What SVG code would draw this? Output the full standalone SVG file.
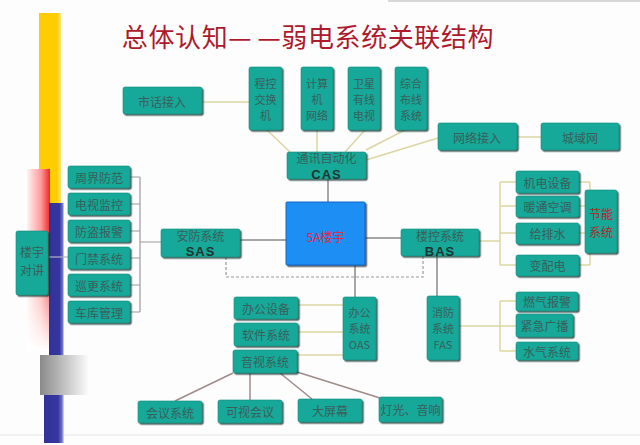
<svg xmlns="http://www.w3.org/2000/svg" width="640" height="445" viewBox="0 0 640 445">
<defs>
<style>
.b{fill:#17a898;stroke:#0e8a7b;stroke-width:0.6;filter:url(#sh)}
.t{font-family:"Noto Sans CJK SC","Noto Sans",sans-serif;font-size:12px;fill:#3b5f5b;text-anchor:middle;dominant-baseline:central}
.q{font-size:11px}
.k{font-family:"Liberation Sans",Arial,sans-serif;font-size:13px;font-weight:bold;fill:#1d3432;text-anchor:middle;dominant-baseline:central;letter-spacing:1px}
.r{fill:#b02a2a}
.g{fill:none;stroke:#a6a6a6;stroke-width:2}
.s{fill:none;stroke:#9c9c9c;stroke-width:1.2}
.o{fill:none;stroke:#dcd6a4;stroke-width:1.5}
.v{fill:none;stroke:#a08b8b;stroke-width:1.5}
</style>
<filter id="sh" x="-10%" y="-10%" width="130%" height="140%">
<feDropShadow dx="1.5" dy="1.5" stdDeviation="0.6" flood-color="#1a2a28" flood-opacity="0.75"/>
</filter>
<linearGradient id="yg" x1="0" x2="1" y1="0" y2="0">
<stop offset="0" stop-color="#ffcc00"/><stop offset="0.8" stop-color="#ffcc00"/><stop offset="1" stop-color="#ffe27a"/>
</linearGradient>
<linearGradient id="rg" x1="0" x2="1" y1="0" y2="0">
<stop offset="0" stop-color="#fff2f2"/><stop offset="0.6" stop-color="#ff9c9c"/><stop offset="1" stop-color="#f02626"/>
</linearGradient>
<linearGradient id="wf" x1="0" x2="0" y1="0" y2="1">
<stop offset="0" stop-color="#fff" stop-opacity="0"/><stop offset="0.45" stop-color="#fff" stop-opacity="0"/><stop offset="1" stop-color="#fff" stop-opacity="1"/>
</linearGradient>
<linearGradient id="bg" x1="0" x2="1" y1="0" y2="0">
<stop offset="0" stop-color="#31329a"/><stop offset="0.7" stop-color="#35369e"/><stop offset="0.9" stop-color="#7072c8"/><stop offset="1" stop-color="#e4e4f6"/>
</linearGradient>
<linearGradient id="gg" x1="0" x2="1" y1="0" y2="0">
<stop offset="0" stop-color="#8a8a8a"/><stop offset="0.55" stop-color="#c9c9c9"/><stop offset="1" stop-color="#ffffff"/>
</linearGradient>
</defs>
<rect width="640" height="445" fill="#fdfdfd"/>
<rect x="388" y="0" width="252" height="2" fill="#d8d8d8"/>
<line x1="0" y1="435" x2="640" y2="435" stroke="#ececec" stroke-width="1.5"/>

<g id="sidebar">
<rect x="39" y="13" width="22" height="190" fill="url(#yg)"/>
<rect x="27" y="169" width="23" height="181" fill="url(#rg)"/>
<rect x="27" y="169" width="22" height="182" fill="url(#wf)"/>
<rect x="49" y="203" width="15" height="240" fill="url(#bg)"/>
<rect x="44" y="395" width="20" height="48" fill="url(#bg)"/>
<rect x="40" y="355" width="50" height="40" fill="url(#gg)"/>
</g>

<text x="308" y="35" font-family="'Noto Sans CJK SC',sans-serif" font-size="26" fill="#ad1a2c" text-anchor="middle" dominant-baseline="central" letter-spacing="0.6">总体认知<tspan letter-spacing="6">—</tspan>—弱电系统关联结构</text>

<g id="connectors">
<path class="g" d="M328,179V202M240,240H286M365,238H401M355,265V297M437,256V296"/>
<path d="M226,257V277H423V256" fill="none" stroke="#9a9a9a" stroke-width="1.2" stroke-dasharray="3,2"/>
<path class="s" d="M130,177H140M130,204H140M130,231H140M130,258H140M130,285H140M130,312H140M140,177V312M140,242H161"/>
<path d="M48,257H68" stroke="#b4b4c4" stroke-width="1.2"/>
<path class="o" d="M202,102H249M267,130L290,152M317,130V152M365,130L345,152M405,130L366,150M438,138L366,160M517,137H541"/>
<path class="o" d="M479,241H500M500,182V265M500,182H516M500,206H516M500,233H516M500,265H516M579,182H590M579,206H590M579,233H590M579,265H590M590,182V265"/>
<path class="o" d="M459,326H500M500,301V351M500,301H516M500,326H516M500,351H516"/>
<path class="o" d="M298,305H343M298,332H343M297,355H343"/>
<path class="v" d="M233,373L175,401M250,373V400M280,373L312,399M297,372L380,398"/>
</g>

<g id="n-shihua"><rect class="b" x="123" y="87" width="79" height="27" rx="2"/><text class="t" x="162" y="101">市话接入</text></g>
<g id="n-chengkong"><rect class="b" x="249" y="67" width="33" height="63" rx="2"/><text class="t q" x="265.5" y="83">程控</text><text class="t q" x="265.5" y="99">交换</text><text class="t q" x="265.5" y="115">机</text></g>
<g id="n-jisuanji"><rect class="b" x="301" y="67" width="32" height="63" rx="2"/><text class="t q" x="317" y="83">计算</text><text class="t q" x="317" y="99">机</text><text class="t q" x="317" y="115">网络</text></g>
<g id="n-weixing"><rect class="b" x="348" y="67" width="32" height="63" rx="2"/><text class="t q" x="364" y="83">卫星</text><text class="t q" x="364" y="99">有线</text><text class="t q" x="364" y="115">电视</text></g>
<g id="n-zonghe"><rect class="b" x="395" y="67" width="32" height="63" rx="2"/><text class="t q" x="411" y="83">综合</text><text class="t q" x="411" y="99">布线</text><text class="t q" x="411" y="115">系统</text></g>
<g id="n-wangluo"><rect class="b" x="438" y="123" width="79" height="27" rx="2"/><text class="t" x="477" y="137">网络接入</text></g>
<g id="n-chengyu"><rect class="b" x="541" y="123" width="78" height="27" rx="2"/><text class="t" x="580" y="137">城域网</text></g>
<g id="n-cas"><rect class="b" x="287" y="152" width="79" height="27" rx="2"/><text class="t" x="326.5" y="157.5">通讯自动化</text><text class="k" x="326.5" y="174">CAS</text></g>
<g id="n-sa"><rect x="286" y="202" width="79" height="63" rx="1" fill="#1c8ef4" stroke="#1467c4" stroke-width="1" filter="url(#sh)"/><text class="t" x="325.5" y="236" font-size="13" style="fill:#e3283a">5A楼宇</text></g>
<g id="n-sas"><rect class="b" x="161" y="229" width="79" height="28" rx="2"/><text class="t" x="200.5" y="235">安防系统</text><text class="k" x="200.5" y="251">SAS</text></g>
<g id="n-bas"><rect class="b" x="401" y="229" width="78" height="27" rx="2"/><text class="t" x="440" y="235">楼控系统</text><text class="k" x="440" y="251">BAS</text></g>

<g id="n-zhoujie"><rect class="b" x="68" y="166" width="62" height="22" rx="2"/><text class="t" x="99" y="177">周界防范</text></g>
<g id="n-dianshi"><rect class="b" x="68" y="193" width="62" height="22" rx="2"/><text class="t" x="99" y="204">电视监控</text></g>
<g id="n-fangdao"><rect class="b" x="68" y="220" width="62" height="22" rx="2"/><text class="t" x="99" y="231">防盗报警</text></g>
<g id="n-menjin"><rect class="b" x="68" y="247" width="62" height="22" rx="2"/><text class="t" x="99" y="258">门禁系统</text></g>
<g id="n-xungeng"><rect class="b" x="68" y="274" width="62" height="22" rx="2"/><text class="t" x="99" y="285">巡更系统</text></g>
<g id="n-cheku"><rect class="b" x="68" y="301" width="62" height="22" rx="2"/><text class="t" x="99" y="312">车库管理</text></g>
<g id="n-duijiang"><rect class="b" x="16" y="231" width="32" height="64" rx="2"/><text class="t" x="32" y="251">楼宇</text><text class="t" x="32" y="269">对讲</text></g>

<g id="n-jidian"><rect class="b" x="516" y="171" width="63" height="22" rx="2"/><text class="t" x="547.5" y="182">机电设备</text></g>
<g id="n-nuantong"><rect class="b" x="516" y="196" width="63" height="21" rx="2"/><text class="t" x="547.5" y="206.5">暖通空调</text></g>
<g id="n-geipaishui"><rect class="b" x="516" y="223" width="63" height="21" rx="2"/><text class="t" x="547.5" y="233.5">给排水</text></g>
<g id="n-biandian"><rect class="b" x="516" y="255" width="63" height="21" rx="2"/><text class="t" x="547.5" y="265.5">变配电</text></g>
<g id="n-jieneng"><rect class="b" x="585" y="190" width="32" height="63" rx="2"/><text class="t r" x="601" y="213">节能</text><text class="t r" x="601" y="231">系统</text></g>

<g id="n-oas"><rect class="b" x="343" y="297" width="33" height="63" rx="2"/><text class="t q" x="359.5" y="312">办公</text><text class="t q" x="359.5" y="328">系统</text><text class="t q" x="359.5" y="344" font-family="'Liberation Sans',sans-serif">OAS</text></g>
<g id="n-bangong"><rect class="b" x="234" y="297" width="64" height="22" rx="2"/><text class="t" x="266" y="308">办公设备</text></g>
<g id="n-ruanjian"><rect class="b" x="234" y="323" width="64" height="23" rx="2"/><text class="t" x="266" y="334.5">软件系统</text></g>
<g id="n-yinshi"><rect class="b" x="233" y="350" width="64" height="23" rx="2"/><text class="t" x="265" y="361.5">音视系统</text></g>

<g id="n-fas"><rect class="b" x="427" y="296" width="32" height="64" rx="2"/><text class="t q" x="443" y="312">消防</text><text class="t q" x="443" y="328">系统</text><text class="t q" x="443" y="344" font-family="'Liberation Sans',sans-serif">FAS</text></g>
<g id="n-ranqi"><rect class="b" x="516" y="292" width="62" height="19" rx="2"/><text class="t" x="547" y="301.5">燃气报警</text></g>
<g id="n-jinji"><rect class="b" x="516" y="314" width="57" height="23" rx="2"/><text class="t" x="544.5" y="325.5">紧急广播</text></g>
<g id="n-shuiqi"><rect class="b" x="516" y="342" width="62" height="18" rx="2"/><text class="t" x="547" y="351">水气系统</text></g>

<g id="n-huiyi"><rect class="b" x="138" y="401" width="64" height="22" rx="2"/><text class="t" x="170" y="412">会议系统</text></g>
<g id="n-keshi"><rect class="b" x="218" y="400" width="64" height="23" rx="2"/><text class="t" x="250" y="411.5">可视会议</text></g>
<g id="n-daping"><rect class="b" x="298" y="399" width="64" height="23" rx="2"/><text class="t" x="330" y="410.5">大屏幕</text></g>
<g id="n-dengguang"><rect class="b" x="379" y="397" width="63" height="25" rx="2"/><text class="t" x="410.5" y="409.5">灯光、音响</text></g>
</svg>
